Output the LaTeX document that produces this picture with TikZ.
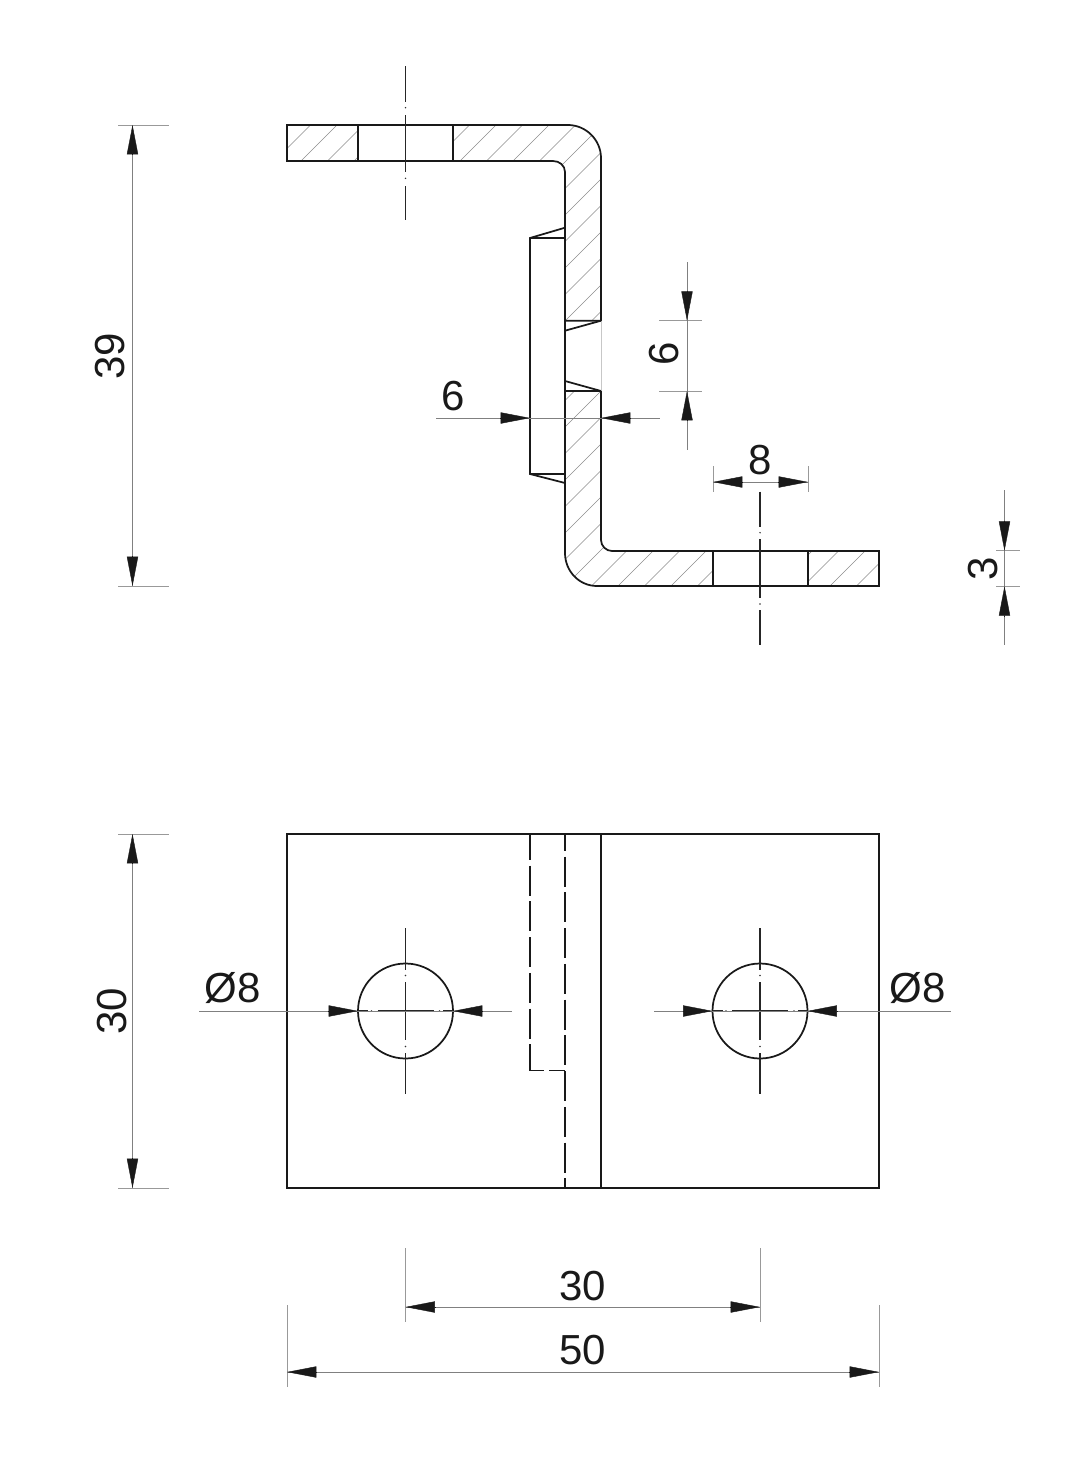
\documentclass[tikz,border=0pt]{standalone}
\usepackage{fontspec}
\setmainfont{Liberation Sans}
\usetikzlibrary{arrows.meta}
\tikzset{
  px/.style={x=0.75pt,y=-0.75pt},
  outline/.style={line width=1.3pt,black!90,line join=miter},
  hatchline/.style={line width=0.5pt,black!45},
  dimline/.style={line width=0.5pt,black!50},
  extline/.style={line width=0.5pt,black!40},
  faintline/.style={line width=0.5pt,black!22},
  centre/.style={line width=1pt,black!85},
  hidden/.style={line width=1.25pt,black!90,dash pattern=on 22.5pt off 4.3pt},
  tipline/.style={line width=0.3pt,black!90,-{Triangle[length=22pt,width=8.4pt,fill=black!90]}},
  dimtext/.style={font=\fontsize{31.5}{34}\selectfont,text=black!90,inner sep=0pt},
}
\newcommand{\ctip}[2]{\draw[tipline] #1 -- #2;}
\newcommand{\cldot}[1]{\fill[black!80] #1 circle (0.6pt);}
\begin{document}
\begin{tikzpicture}[px]
\useasboundingbox (0,0) rectangle (1074,1481);
% hatching
\begin{scope}
\clip (287,125) rectangle (358,161)
      (453,125) -- (568,125) .. controls (586,125) and (601,140) .. (601,158) -- (601,320.7) -- (565,320.7) -- (565,172) .. controls (565,165.5) and (559.5,161) .. (553,161) -- (453,161) -- cycle
      (565,391) -- (601,391) -- (601,540) .. controls (601,546) and (606,551) .. (612,551) -- (713,551) -- (713,586) -- (597,586) .. controls (579,586) and (565,571) .. (565,553) -- cycle
      (808,551) rectangle (879,586);
\foreach \k [evaluate=\k as \c using 462+26.5*\k] in {-2,...,38}
  \draw[hatchline] (\c-100,100) -- (\c-600,600);
\end{scope}
% section outline
\draw[outline] (358,161) -- (287,161) -- (287,125) -- (568,125) .. controls (586,125) and (601,140) .. (601,158) -- (601,320.7) -- (565,320.7);
\draw[outline] (358,125) -- (358,161) -- (553,161) .. controls (559.5,161) and (565,165.5) .. (565,172) -- (565,553) .. controls (565,571) and (579,586) .. (597,586) -- (879,586) -- (879,551) -- (612,551) .. controls (606,551) and (601,546) .. (601,540) -- (601,391) -- (565,391);
\draw[outline] (453,125) -- (453,161);
\draw[outline] (713,551) -- (713,586) (808,551) -- (808,586);
\draw[faintline] (601,320.7) -- (601,391);
\draw[outline] (601,320.7) -- (565,330.7) (601,391) -- (565,381);
\draw[outline] (565,227.7) -- (530,238) -- (530,474) -- (565,483) (530,238) -- (565,238) (530,474) -- (565,474);
% centre lines of section
\draw[centre] (405.5,66) -- (405.5,101.7) (405.5,115) -- (405.5,171.7) (405.5,186) -- (405.5,220);
\cldot{(405.5,107.7)} \cldot{(405.5,178.3)}
\draw[centre] (760,491.7) -- (760,526.7) (760,539) -- (760,598) (760,610) -- (760,645);
\cldot{(760,532.7)} \cldot{(760,604)}
% dimension 39
\draw[extline] (118,125) -- (169,125) (118,586) -- (169,586);
\draw[dimline] (132.5,125) -- (132.5,586);
\ctip{(132.5,155)}{(132.5,125)} \ctip{(132.5,556)}{(132.5,586)}
\node[dimtext,rotate=90] (d39) at (110,356) {39};
% dimension 6 left
\draw[dimline] (436,418) -- (660,418);
\ctip{(500,418)}{(530,418)} \ctip{(631,418)}{(601,418)}
\node[dimtext] (d6a) at (453,396) {6};
% dimension 6 right
\draw[extline] (659,320.7) -- (702,320.7) (659,391) -- (702,391);
\draw[dimline] (687,262) -- (687,450);
\ctip{(687,290.7)}{(687,320.7)} \ctip{(687,421)}{(687,391)}
\node[dimtext,rotate=90] (d6b) at (664,354) {6};
% dimension 8
\draw[extline] (713,466) -- (713,492) (808,466) -- (808,492);
\draw[dimline] (713,482) -- (808,482);
\ctip{(743,482)}{(713,482)} \ctip{(778,482)}{(808,482)}
\node[dimtext] (d8) at (760,460) {8};
% dimension 3
\draw[extline] (996,550.7) -- (1020,550.7) (996,586.3) -- (1020,586.3);
\draw[dimline] (1004.5,490) -- (1004.5,645);
\ctip{(1004.5,520.7)}{(1004.5,550.7)} \ctip{(1004.5,616.3)}{(1004.5,586.3)}
\node[dimtext,rotate=90] (d3) at (983,568.5) {3};
% plan view
\draw[outline] (287,834) rectangle (879,1188);
\draw[outline] (601,834) -- (601,1188);
\draw[hidden,dash phase=9.75pt] (565,834) -- (565,1188);
\draw[hidden,dash phase=3pt] (530,834) -- (530,1070.5);
\draw[outline] (530,1070.5) -- (544,1070.5) (549,1070.5) -- (565,1070.5);
\draw[outline] (405.5,1011) circle (47.5);
\draw[outline] (760,1011) circle (47.5);
% hole centre lines
\foreach \cx in {405.5,760}{
  \draw[centre] (\cx,928) -- (\cx,970) (\cx,982) -- (\cx,1040) (\cx,1053) -- (\cx,1094);
  \cldot{(\cx,975.5)} \cldot{(\cx,1046.5)}
  \draw[centre] (\cx-47.5,1011) -- (\cx-37.5,1011) (\cx-28,1011) -- (\cx+28,1011) (\cx+37.5,1011) -- (\cx+47.5,1011);
  \cldot{(\cx-34,1011)} \cldot{(\cx+34,1011)}
}
% dimensions Ø8
\draw[dimline] (199,1011) -- (512,1011);
\ctip{(328,1011)}{(358,1011)} \ctip{(483,1011)}{(453,1011)}
\node[dimtext] (d8l) at (233,988) {Ø8};
\draw[dimline] (654,1011) -- (951,1011);
\ctip{(682.5,1011)}{(712.5,1011)} \ctip{(837.5,1011)}{(807.5,1011)}
\node[dimtext] (d8r) at (917.5,988) {Ø8};
% dimension 30 left
\draw[extline] (118,834) -- (169,834) (118,1188) -- (169,1188);
\draw[dimline] (132.5,834) -- (132.5,1188);
\ctip{(132.5,864)}{(132.5,834)} \ctip{(132.5,1158)}{(132.5,1188)}
\node[dimtext,rotate=90] (d30l) at (112,1011) {30};
% dimension 30 bottom
\draw[extline] (405.5,1248) -- (405.5,1322) (760,1248) -- (760,1322);
\draw[dimline] (405.5,1307) -- (760,1307);
\ctip{(435.5,1307)}{(405.5,1307)} \ctip{(730,1307)}{(760,1307)}
\node[dimtext] (d30b) at (582.5,1286) {30};
% dimension 50
\draw[extline] (287,1305) -- (287,1387) (879,1305) -- (879,1387);
\draw[dimline] (287,1372) -- (879,1372);
\ctip{(317,1372)}{(287,1372)} \ctip{(849,1372)}{(879,1372)}
\node[dimtext] (d50) at (582.5,1350) {50};
\end{tikzpicture}
\end{document}
